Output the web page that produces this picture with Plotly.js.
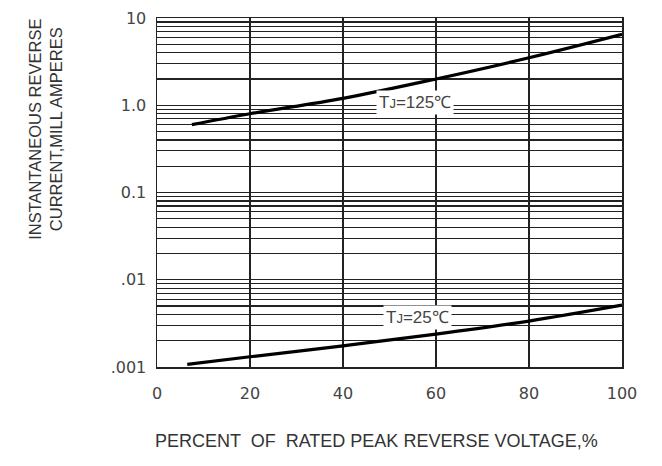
<!DOCTYPE html>
<html>
<head>
<meta charset="utf-8">
<script src="https://cdn.plot.ly/plotly-3.0.1.min.js"></script>
<style>html,body{margin:0;padding:0;background:#fff;}#chart{width:662px;height:466px;}</style>
</head>
<body>
<div id="chart"></div>
<script>
// Data
const pct125 = [7.5, 20, 40, 60, 80, 100];
const cur125 = [0.6, 0.8, 1.2, 2.0, 3.5, 6.5];
const pct25 = [6.5, 20, 40, 60, 80, 100];
const cur25 = [0.00107, 0.00131, 0.00175, 0.00238, 0.00336, 0.00511];
const xTicks = [0, 20, 40, 60, 80, 100];
const yDecades = [0.001, 0.01, 0.1, 1, 10];
const yDecadeLabels = ['.001', '.01', '0.1', '1.0', '10'];
const digits = [1, 2, 3, 4, 5, 6, 7, 8, 9];

const yTickVals = [];
const yTickText = [];
yDecades.forEach((d, i) => {
  if (i === yDecades.length - 1) { yTickVals.push(d); yTickText.push(yDecadeLabels[i]); return; }
  digits.forEach(k => {
    yTickVals.push(d * k);
    yTickText.push(k === 1 ? yDecadeLabels[i] : '');
  });
});

const lineStyle = {color: '#000', width: 3.2, shape: 'spline'};
const traces = [
  {x: pct125, y: cur125, mode: 'lines', line: lineStyle, hoverinfo: 'skip'},
  {x: pct25, y: cur25, mode: 'lines', line: lineStyle, hoverinfo: 'skip'}
];

const tickFont = {family: 'DejaVu Sans, Arial, sans-serif', size: 16, color: '#444'};
const yTitleFont = {family: 'Liberation Sans, Arial, sans-serif', size: 16.5, color: '#333'};
const xTitleFont = {family: 'Liberation Sans, Arial, sans-serif', size: 18, color: '#333'};
const labelFont = {family: 'Liberation Sans, Arial, sans-serif', size: 17, color: '#444'};

const layout = {
  width: 662, height: 466,
  margin: {l: 157, r: 40, t: 18, b: 99},
  paper_bgcolor: '#fff', plot_bgcolor: '#fff',
  showlegend: false,
  xaxis: {
    range: [0, 100], tickvals: xTicks, ticktext: xTicks.map(String),
    showgrid: true, gridcolor: '#222', gridwidth: 1.3,
    showline: true, linecolor: '#222', linewidth: 1.5, mirror: true,
    zeroline: false, ticks: '', tickfont: tickFont, ticklabelstandoff: 11
  },
  yaxis: {
    type: 'log', range: [-3, 1],
    tickvals: yTickVals, ticktext: yTickText,
    showgrid: true, gridcolor: '#222', gridwidth: 1.1,
    showline: true, linecolor: '#222', linewidth: 1.5, mirror: true,
    zeroline: false, ticks: '', tickfont: tickFont, ticklabelstandoff: 6
  },
  annotations: [
    {text: 'T<span style="font-size:13px">J</span>=125℃', x: 55.5, y: Math.log10(1.08), xref: 'x', yref: 'y',
     showarrow: false, bgcolor: '#fff', font: labelFont, borderpad: 2},
    {text: 'T<span style="font-size:13px">J</span>=25℃', x: 56, y: Math.log10(0.00373), xref: 'x', yref: 'y',
     showarrow: false, bgcolor: '#fff', font: labelFont, borderpad: 2},
    {text: 'INSTANTANEOUS REVERSE<br>CURRENT,MILL AMPERES', textangle: -90,
     x: -0.239, y: 0.682, xref: 'paper', yref: 'paper', xanchor: 'center', yanchor: 'middle',
     showarrow: false, font: yTitleFont},
    {text: 'PERCENT  OF  RATED PEAK REVERSE VOLTAGE,%',
     x: 0.473, y: -0.212, xref: 'paper', yref: 'paper', xanchor: 'center', yanchor: 'middle',
     showarrow: false, font: xTitleFont}
  ]
};

Plotly.newPlot('chart', traces, layout, {staticPlot: true, displayModeBar: false});
</script>
</body>
</html>
